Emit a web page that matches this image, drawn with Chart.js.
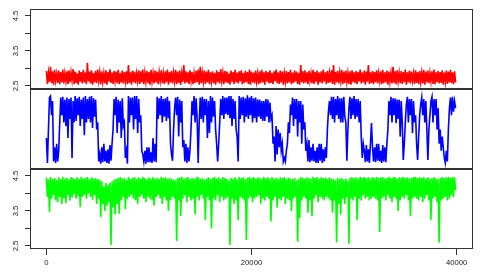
<!DOCTYPE html>
<html>
<head>
<meta charset="utf-8">
<title>trace plots</title>
<script src="https://cdn.jsdelivr.net/npm/chart.js"></script>
<style>
  html, body { margin: 0; padding: 0; background: #fff; }
  #wrap { width: 485px; height: 277px; }
</style>
</head>
<body>
<div id="wrap"><canvas id="trace-chart" width="485" height="277"></canvas></div>
<script>
// iterations per column, every column keeps an upper and a lower reading of the trace
var colStep = 200;

var xTicks = [0, 20000, 40000];
var yTicks = [2.5, 3.0, 3.5, 4.0, 4.5];
var yLabels = [2.5, 3.5, 4.5];

// top panel (red)
var redTop = [
  2.93, 2.88, 3.05, 2.92, 2.96, 2.85, 2.94, 2.90, 2.97, 2.87, 2.92, 2.95, 2.89, 2.98, 2.91, 2.86, 2.94, 2.90, 2.96, 2.88,
  3.16, 2.91, 2.95, 2.87, 2.93, 2.97, 2.89, 2.92, 2.86, 2.95, 2.90, 2.98, 2.88, 2.93, 2.91, 2.96, 2.87, 2.94, 2.90, 2.92,
  3.10, 2.89, 2.94, 2.91, 2.86, 2.95, 2.92, 2.97, 2.88, 2.93, 2.90, 2.96, 2.87, 2.94, 2.91, 2.89, 2.95, 2.86, 2.92, 2.97,
  2.90, 2.93, 2.88, 2.96, 2.91, 2.94, 2.87, 3.10, 2.92, 2.89, 2.95, 2.90, 2.86, 2.93, 2.97, 3.05, 2.88, 2.94, 2.91, 2.96,
  2.89, 2.92, 2.87, 2.95, 2.90, 2.98, 2.88, 2.93, 2.91, 2.86, 2.94, 2.90, 2.96, 2.88, 2.92, 2.95, 2.87, 2.93, 2.90, 2.97,
  2.91, 2.88, 2.94, 2.86, 2.92, 2.96, 2.89, 2.93, 2.90, 2.95, 2.87, 2.92, 2.97, 2.89, 2.94, 2.91, 2.86, 2.93, 2.90, 2.96,
  2.88, 2.94, 2.91, 2.87, 3.10, 2.92, 2.95, 2.89, 2.93, 2.86, 2.96, 2.90, 2.94, 2.88, 2.92, 2.97, 2.89, 2.93, 2.87, 2.95,
  3.10, 2.90, 2.93, 2.88, 2.96, 2.91, 2.94, 2.87, 2.92, 2.95, 2.89, 2.93, 2.90, 2.97, 2.88, 2.94, 2.91, 3.10, 2.89, 2.93,
  2.90, 2.95, 2.87, 2.92, 2.96, 2.89, 2.94, 2.91, 2.88, 3.05, 2.92, 2.95, 2.87, 2.93, 2.90, 2.97, 2.89, 2.94, 2.91, 2.86,
  2.95, 2.90, 2.93, 2.88, 2.96, 2.91, 2.94, 2.87, 2.92, 2.97, 2.89, 2.93, 2.90, 2.95, 2.88, 2.94, 2.91, 2.96, 2.89, 2.92
];
var redBottom = [
  2.56, 2.62, 2.58, 2.54, 2.65, 2.59, 2.55, 2.61, 2.57, 2.64, 2.55, 2.60, 2.66, 2.56, 2.59, 2.54, 2.62, 2.57, 2.60, 2.55,
  2.63, 2.57, 2.54, 2.60, 2.58, 2.65, 2.55, 2.61, 2.57, 2.54, 2.62, 2.59, 2.56, 2.64, 2.58, 2.55, 2.60, 2.57, 2.63, 2.55,
  2.59, 2.54, 2.61, 2.57, 2.64, 2.56, 2.60, 2.55, 2.62, 2.58, 2.54, 2.63, 2.57, 2.60, 2.55, 2.65, 2.58, 2.56, 2.61, 2.54,
  2.60, 2.57, 2.63, 2.55, 2.59, 2.54, 2.62, 2.57, 2.60, 2.56, 2.64, 2.55, 2.59, 2.61, 2.54, 2.58, 2.62, 2.56, 2.60, 2.55,
  2.63, 2.58, 2.54, 2.61, 2.57, 2.65, 2.55, 2.60, 2.58, 2.54, 2.62, 2.56, 2.60, 2.57, 2.64, 2.55, 2.59, 2.61, 2.56, 2.54,
  2.60, 2.57, 2.63, 2.55, 2.58, 2.61, 2.54, 2.62, 2.57, 2.59, 2.55, 2.64, 2.58, 2.56, 2.60, 2.54, 2.62, 2.57, 2.60, 2.55,
  2.59, 2.63, 2.56, 2.54, 2.61, 2.57, 2.60, 2.55, 2.65, 2.58, 2.56, 2.62, 2.54, 2.60, 2.57, 2.63, 2.55, 2.59, 2.61, 2.56,
  2.54, 2.60, 2.57, 2.64, 2.55, 2.59, 2.62, 2.56, 2.54, 2.61, 2.58, 2.55, 2.63, 2.57, 2.60, 2.54, 2.62, 2.56, 2.59, 2.55,
  2.61, 2.57, 2.64, 2.55, 2.58, 2.60, 2.54, 2.62, 2.57, 2.59, 2.55, 2.63, 2.58, 2.56, 2.61, 2.54, 2.60, 2.57, 2.65, 2.56,
  2.59, 2.55, 2.62, 2.57, 2.54, 2.60, 2.58, 2.63, 2.56, 2.55, 2.61, 2.57, 2.59, 2.54, 2.62, 2.56, 2.60, 2.58, 2.55, 2.60
];

// middle panel (blue), no axis, so kept on a 0..1 scale
var blueA = [
  0.38, 0.50, 0.97, 0.90, 0.25, 0.30, 0.20, 0.95, 0.96, 0.92, 0.95, 0.93, 0.95, 0.90, 0.97, 0.94, 0.96, 0.92, 0.95, 0.97,
  0.93, 0.96, 0.97, 0.94, 0.92, 0.60, 0.15, 0.25, 0.30, 0.20, 0.22, 0.28, 0.30, 0.93, 0.96, 0.92, 0.90, 0.94, 0.60, 0.20,
  0.97, 0.95, 0.95, 0.97, 0.97, 0.93, 0.70, 0.15, 0.20, 0.25, 0.25, 0.18, 0.38, 0.30, 0.96, 0.94, 0.97, 0.93, 0.94, 0.96,
  0.90, 0.15, 0.50, 0.95, 0.96, 0.92, 0.90, 0.35, 0.30, 0.25, 0.20, 0.90, 0.97, 0.94, 0.03, 0.95, 0.96, 0.93, 0.93, 0.90,
  0.97, 0.95, 0.90, 0.30, 0.30, 0.93, 0.97, 0.95, 0.95, 0.97, 0.97, 0.93, 0.90, 0.40, 0.97, 0.95, 0.96, 0.94, 0.98, 0.95,
  0.97, 0.94, 0.95, 0.92, 0.92, 0.90, 0.90, 0.93, 0.92, 0.88, 0.70, 0.40, 0.55, 0.50, 0.45, 0.30, 0.10, 0.20, 0.60, 0.85,
  0.95, 0.93, 0.93, 0.90, 0.90, 0.85, 0.60, 0.30, 0.35, 0.25, 0.30, 0.20, 0.25, 0.30, 0.30, 0.22, 0.25, 0.50, 0.90, 0.96,
  0.96, 0.93, 0.97, 0.94, 0.94, 0.96, 0.60, 0.50, 0.96, 0.94, 0.97, 0.93, 0.93, 0.90, 0.10, 0.20, 0.28, 0.22, 0.30, 0.25,
  0.25, 0.30, 0.30, 0.20, 0.28, 0.25, 0.30, 0.90, 0.96, 0.94, 0.94, 0.92, 0.92, 0.90, 0.07, 0.60, 0.96, 0.93, 0.93, 0.90,
  0.70, 0.07, 0.70, 0.95, 0.93, 0.90, 0.07, 0.70, 0.96, 0.93, 0.93, 0.80, 0.50, 0.40, 0.10, 0.20, 0.50, 0.95, 0.96, 0.90
];
var blueB = [
  0.03, 0.95, 0.70, 0.05, 0.03, 0.05, 0.60, 0.70, 0.60, 0.55, 0.38, 0.65, 0.10, 0.60, 0.62, 0.70, 0.55, 0.65, 0.42, 0.60,
  0.65, 0.60, 0.52, 0.68, 0.50, 0.05, 0.02, 0.04, 0.05, 0.03, 0.02, 0.06, 0.50, 0.70, 0.45, 0.60, 0.38, 0.55, 0.10, 0.02,
  0.60, 0.70, 0.50, 0.65, 0.45, 0.60, 0.20, 0.05, 0.02, 0.04, 0.04, 0.03, 0.05, 0.04, 0.65, 0.70, 0.60, 0.68, 0.62, 0.66,
  0.30, 0.06, 0.80, 0.70, 0.40, 0.60, 0.25, 0.05, 0.03, 0.05, 0.50, 0.70, 0.60, 0.65, 0.60, 0.65, 0.60, 0.70, 0.38, 0.45,
  0.60, 0.68, 0.50, 0.05, 0.60, 0.70, 0.65, 0.72, 0.70, 0.66, 0.55, 0.65, 0.50, 0.05, 0.65, 0.70, 0.60, 0.68, 0.65, 0.70,
  0.60, 0.66, 0.60, 0.68, 0.65, 0.62, 0.62, 0.68, 0.60, 0.65, 0.30, 0.05, 0.15, 0.25, 0.20, 0.05, 0.05, 0.30, 0.45, 0.70,
  0.55, 0.65, 0.40, 0.60, 0.30, 0.50, 0.20, 0.05, 0.04, 0.06, 0.05, 0.03, 0.03, 0.06, 0.03, 0.05, 0.10, 0.75, 0.70, 0.65,
  0.60, 0.70, 0.65, 0.60, 0.60, 0.68, 0.06, 0.80, 0.65, 0.70, 0.65, 0.68, 0.60, 0.40, 0.30, 0.04, 0.05, 0.03, 0.59, 0.05,
  0.04, 0.06, 0.05, 0.03, 0.05, 0.04, 0.50, 0.70, 0.60, 0.70, 0.59, 0.65, 0.40, 0.60, 0.30, 0.85, 0.60, 0.70, 0.45, 0.60,
  0.30, 0.40, 0.85, 0.70, 0.60, 0.50, 0.50, 0.90, 0.60, 0.70, 0.50, 0.30, 0.20, 0.25, 0.03, 0.05, 0.80, 0.70, 0.75, 0.80
];

// bottom panel (green)
var greenTop = [
  4.45, 4.40, 4.47, 4.42, 4.44, 4.38, 4.46, 4.41, 4.48, 4.43, 4.45, 4.39, 4.47, 4.44, 4.42, 4.46, 4.41, 4.48, 4.43, 4.45,
  4.47, 4.40, 4.46, 4.43, 4.44, 4.41, 4.40, 4.35, 4.20, 4.30, 4.25, 4.30, 4.35, 4.40, 4.42, 4.45, 4.47, 4.43, 4.44, 4.40,
  4.48, 4.42, 4.45, 4.47, 4.41, 4.46, 4.43, 4.48, 4.44, 4.40, 4.46, 4.42, 4.47, 4.43, 4.45, 4.41, 4.48, 4.44, 4.46, 4.42,
  4.45, 4.43, 4.40, 4.38, 4.44, 4.46, 4.48, 4.42, 4.45, 4.47, 4.41, 4.44, 4.43, 4.46, 4.47, 4.42, 4.44, 4.40, 4.43, 4.46,
  4.42, 4.45, 4.48, 4.43, 4.46, 4.41, 4.47, 4.44, 4.42, 4.38, 4.45, 4.43, 4.46, 4.41, 4.47, 4.44, 4.46, 4.40, 4.45, 4.48,
  4.44, 4.47, 4.43, 4.46, 4.45, 4.41, 4.48, 4.44, 4.46, 4.42, 4.47, 4.43, 4.45, 4.41, 4.46, 4.44, 4.47, 4.42, 4.45, 4.43,
  4.41, 4.44, 4.38, 4.42, 4.47, 4.45, 4.43, 4.46, 4.44, 4.42, 4.48, 4.45, 4.47, 4.43, 4.46, 4.44, 4.45, 4.42, 4.46, 4.43,
  4.41, 4.38, 4.45, 4.42, 4.44, 4.40, 4.43, 4.37, 4.45, 4.47, 4.44, 4.46, 4.43, 4.48, 4.45, 4.47, 4.44, 4.46, 4.42, 4.47,
  4.45, 4.48, 4.44, 4.46, 4.47, 4.43, 4.45, 4.48, 4.44, 4.46, 4.47, 4.43, 4.46, 4.45, 4.48, 4.44, 4.46, 4.43, 4.45, 4.47,
  4.48, 4.44, 4.46, 4.45, 4.47, 4.43, 4.46, 4.42, 4.44, 4.47, 4.43, 4.40, 4.45, 4.47, 4.44, 4.46, 4.48, 4.45, 4.47, 4.46
];
var greenBottom = [
  3.90, 3.47, 3.85, 3.95, 3.80, 3.75, 3.90, 3.70, 3.85, 3.72, 3.95, 3.80, 3.88, 3.98, 3.85, 3.92, 3.61, 3.90, 3.95, 3.85,
  4.00, 3.90, 3.82, 3.95, 3.70, 3.85, 3.33, 3.70, 3.50, 3.65, 3.75, 2.53, 3.60, 3.40, 3.70, 3.42, 3.80, 3.90, 3.55, 3.85,
  3.90, 3.95, 3.85, 3.80, 3.70, 3.90, 3.95, 3.85, 3.75, 3.90, 3.85, 3.80, 3.65, 3.90, 3.95, 3.85, 3.70, 3.90, 3.80, 3.50,
  3.80, 3.90, 3.85, 2.64, 3.80, 3.35, 3.85, 3.95, 3.75, 3.90, 3.80, 3.85, 3.40, 3.90, 3.80, 3.95, 3.85, 3.24, 3.90, 3.80,
  3.00, 3.85, 3.80, 3.95, 3.75, 3.90, 3.80, 3.85, 3.90, 2.53, 3.85, 3.70, 3.80, 3.24, 3.90, 3.85, 3.80, 2.67, 3.85, 3.90,
  3.75, 3.85, 3.90, 3.95, 3.70, 3.85, 3.80, 3.90, 3.85, 3.20, 3.80, 3.90, 3.60, 3.85, 3.80, 3.90, 3.70, 3.85, 3.80, 3.50,
  3.85, 3.90, 2.62, 3.30, 3.80, 3.90, 3.85, 3.45, 3.80, 3.35, 3.85, 3.95, 3.75, 3.90, 3.85, 3.80, 3.90, 3.85, 3.80, 3.45,
  3.80, 2.60, 3.70, 3.40, 3.85, 3.70, 3.90, 2.56, 3.85, 3.80, 3.90, 3.24, 3.85, 3.80, 3.95, 3.85, 3.90, 3.80, 3.85, 3.90,
  3.85, 3.80, 2.90, 3.85, 3.90, 3.80, 3.95, 3.85, 3.75, 3.90, 3.85, 3.50, 3.80, 3.90, 3.85, 3.95, 3.80, 3.35, 3.85, 3.90,
  3.85, 3.80, 3.90, 3.75, 3.85, 3.95, 3.80, 3.24, 3.85, 3.90, 3.75, 2.60, 3.80, 3.85, 3.90, 3.80, 3.85, 3.95, 3.90, 4.10
];

var labelFont = { family: 'Liberation Sans, Arial, sans-serif', size: 7.7 };

// turning the column readings into x/y points (upper at column start, lower half a column later)
function buildPoints(upper, lower) {
    var pts = [];
    for (var i = 0; i < upper.length; i++) {
        pts.push({ x: i * colStep, y: upper[i] });
        pts.push({ x: i * colStep + colStep / 2, y: lower[i] });
    }
    return pts;
}

function traceSet(upper, lower, colour, axis) {
    return {
        data: buildPoints(upper, lower),
        yAxisID: axis,
        borderColor: colour,
        backgroundColor: colour,
        borderWidth: 1.6,
        pointRadius: 0,
        tension: 0,
        fill: false
    };
}

function panelAxis(min, max, showTicks) {
    return {
        type: 'linear',
        position: 'left',
        stack: 'trace',
        stackWeight: 1,
        min: min,
        max: max,
        afterBuildTicks: function (s) {
            s.ticks = showTicks ? yTicks.map(function (v) { return { value: v }; }) : [];
        },
        afterFit: function (s) { s.width = 30; },
        ticks: { display: false },
        grid: { display: showTicks, drawOnChartArea: false, drawTicks: true, tickLength: 5, tickColor: '#333', tickWidth: 1 },
        border: { display: false }
    };
}

// boxes round every panel plus the rotated R-style tick labels
var panelFrames = {
    id: 'panelFrames',
    afterDatasetsDraw: function (chart) {
        var ctx = chart.ctx;
        var a = chart.chartArea;
        ctx.save();
        ctx.strokeStyle = '#333';
        ctx.lineWidth = 1;
        ['y1', 'y2', 'y3'].forEach(function (id) {
            var s = chart.scales[id];
            ctx.strokeRect(a.left + 0.5, s.top + 0.5, a.right - a.left - 1, s.bottom - s.top - 1);
        });
        ctx.fillStyle = '#222';
        ctx.font = labelFont.size + 'px ' + labelFont.family;
        ctx.textAlign = 'center';
        ctx.textBaseline = 'middle';
        ['y1', 'y3'].forEach(function (id) {
            var s = chart.scales[id];
            yLabels.forEach(function (v) {
                ctx.save();
                ctx.translate(16, s.getPixelForValue(v));
                ctx.rotate(-Math.PI / 2);
                ctx.fillText(v.toFixed(1), 0, 0);
                ctx.restore();
            });
        });
        ctx.restore();
    }
};

var chart = new Chart(document.getElementById('trace-chart'), {
    type: 'line',
    data: {
        datasets: [
            traceSet(redTop, redBottom, '#ff0000', 'y1'),
            traceSet(blueA, blueB, '#0000ff', 'y2'),
            traceSet(greenTop, greenBottom, '#00ff00', 'y3')
        ]
    },
    options: {
        responsive: false,
        devicePixelRatio: 1,
        animation: false,
        layout: { padding: { top: 9, right: 12, left: 0, bottom: 0 } },
        plugins: { legend: { display: false }, tooltip: { enabled: false } },
        scales: {
            x: {
                type: 'linear',
                position: 'bottom',
                min: -1600,
                max: 41600,
                afterBuildTicks: function (s) {
                    s.ticks = xTicks.map(function (v) { return { value: v }; });
                },
                afterFit: function (s) { s.height = 28; },
                ticks: {
                    font: labelFont,
                    color: '#222',
                    padding: 3,
                    maxRotation: 0,
                    autoSkip: false,
                    callback: function (v) { return String(v); }
                },
                grid: { drawOnChartArea: false, drawTicks: true, tickLength: 6, tickColor: '#333' },
                border: { display: false }
            },
            // left axes in a stack are laid out last-first, so the bottom panel is listed first
            y3: panelAxis(2.414, 4.7, true),
            y2: panelAxis(-0.056, 1.07, false),
            y1: panelAxis(2.414, 4.7, true)
        }
    },
    plugins: [panelFrames]
});
</script>
</body>
</html>
